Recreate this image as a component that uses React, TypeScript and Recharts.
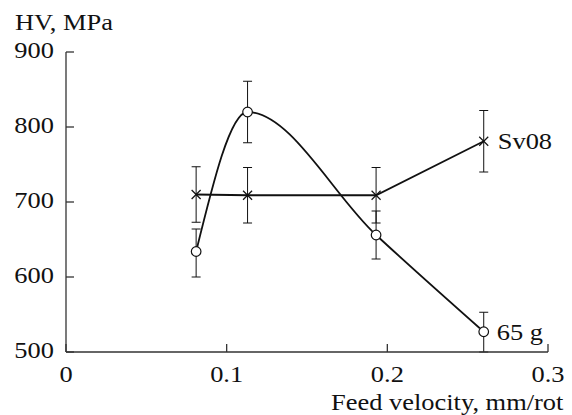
import React from 'react';
import { LineChart, Line, XAxis, YAxis, ErrorBar, Customized } from 'recharts';

// ---- data ----
const feedVelocity = [0.081, 0.113, 0.193, 0.26];
const sv08Hardness = [710, 709, 709, 781];
const sv08Error = [37, 37, 37, 41];
const g65Hardness = [634, 820, 656, 527];
const g65Error = [[34, 30], [41, 41], [32, 32], [27, 26]];
const seriesNames = ['Sv08', '65 g'];
const xTicks = [0, 0.1, 0.2, 0.3];
const xTickLabels = ['0', '0.1', '0.2', '0.3'];
const yTicks = [500, 600, 700, 800, 900];
const yTitle = 'HV, MPa';
const xTitle = 'Feed velocity, mm/rot';

const sv08Data = feedVelocity.map((x, i) => ({
  x,
  y: sv08Hardness[i],
  err: sv08Error[i],
  label: i === feedVelocity.length - 1 ? seriesNames[0] : '',
}));
const g65Data = feedVelocity.map((x, i) => ({
  x,
  y: g65Hardness[i],
  err: g65Error[i],
  label: i === feedVelocity.length - 1 ? seriesNames[1] : '',
}));

const FONT = 'Liberation Serif';
const INK = '#111';
const AXIS = '#333';

const T = ({ x, y, anchor = 'start', children }: any) => (
  <text
    transform={`translate(${x},${y}) scale(1.15,1)`}
    textAnchor={anchor}
    fontFamily={FONT}
    fontSize={23}
    fill={INK}
  >
    {children}
  </text>
);

const YTick = (props: any) => {
  const { x, payload } = props;
  const c = payload.coordinate;
  return (
    <g>
      <line x1={x} y1={c} x2={x + 8} y2={c} stroke={AXIS} strokeWidth={1.3} />
      <T x={x - 12} y={c + 6} anchor="end">{String(payload.value)}</T>
    </g>
  );
};

const XTick = (props: any) => {
  const { y, payload, index } = props;
  const c = payload.coordinate;
  const i = xTicks.indexOf(payload.value);
  return (
    <g>
      <line x1={c} y1={y} x2={c} y2={y - 8} stroke={AXIS} strokeWidth={1.3} />
      <T x={c} y={y + 30} anchor="middle">{xTickLabels[i >= 0 ? i : index]}</T>
    </g>
  );
};

const CircleDot = (props: any) => {
  const { cx, cy, payload, index } = props;
  return (
    <g key={`c-${index}`}>
      <circle cx={cx} cy={cy} r={4.8} fill="#fff" stroke={INK} strokeWidth={1.2} />
      {payload.label ? <T x={cx + 13} y={cy + 8}>{payload.label}</T> : null}
    </g>
  );
};

const CrossDot = (props: any) => {
  const { cx, cy, payload, index } = props;
  const s = 4.5;
  return (
    <g key={`x-${index}`}>
      <line x1={cx - s} y1={cy - s} x2={cx + s} y2={cy + s} stroke={INK} strokeWidth={1.2} />
      <line x1={cx - s} y1={cy + s} x2={cx + s} y2={cy - s} stroke={INK} strokeWidth={1.2} />
      {payload.label ? <T x={cx + 14} y={cy + 8}>{payload.label}</T> : null}
    </g>
  );
};

const Titles = () => (
  <g>
    <T x={15} y={30}>{yTitle}</T>
    <T x={331} y={410}>{xTitle}</T>
  </g>
);

export default function App() {
  return (
    <div style={{ position: 'absolute', left: 0, top: 0, width: 572, height: 415, background: '#fff' }}>
      <LineChart width={572} height={415} margin={{ top: 52, right: 24, left: 0, bottom: 0 }}>
        <XAxis
          type="number"
          dataKey="x"
          domain={[0, 0.3]}
          ticks={xTicks}
          height={63}
          tickSize={0}
          tickMargin={0}
          tickLine={false}
          axisLine={{ stroke: AXIS, strokeWidth: 1.3 }}
          tick={<XTick />}
          interval={0}
        />
        <YAxis
          type="number"
          dataKey="y"
          domain={[500, 900]}
          ticks={yTicks}
          width={66}
          tickSize={0}
          tickMargin={0}
          tickLine={false}
          axisLine={{ stroke: AXIS, strokeWidth: 1.3 }}
          tick={<YTick />}
          interval={0}
        />
        <Line
          data={sv08Data}
          dataKey="y"
          type="linear"
          stroke={INK}
          strokeWidth={1.8}
          dot={CrossDot}
          activeDot={false}
          isAnimationActive={false}
        >
          <ErrorBar dataKey="err" direction="y" width={4.5} stroke={INK} strokeWidth={1} />
        </Line>
        <Line
          data={g65Data}
          dataKey="y"
          type="monotone"
          stroke={INK}
          strokeWidth={1.8}
          dot={CircleDot}
          activeDot={false}
          isAnimationActive={false}
        >
          <ErrorBar dataKey="err" direction="y" width={4.5} stroke={INK} strokeWidth={1} />
        </Line>
        <Customized component={Titles} />
      </LineChart>
    </div>
  );
}
